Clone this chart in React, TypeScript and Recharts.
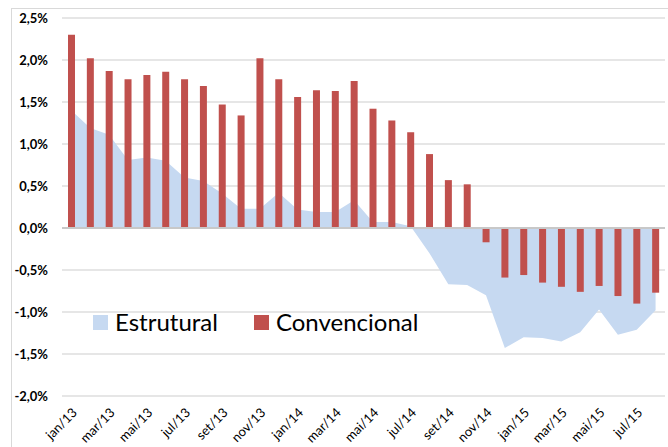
import {
  ComposedChart,
  Area,
  Bar,
  XAxis,
  YAxis,
  CartesianGrid,
  ReferenceLine,
} from "recharts";

const months = [
  "jan/13", "fev/13", "mar/13", "abr/13", "mai/13", "jun/13", "jul/13", "ago/13",
  "set/13", "out/13", "nov/13", "dez/13", "jan/14", "fev/14", "mar/14", "abr/14",
  "mai/14", "jun/14", "jul/14", "ago/14", "set/14", "out/14", "nov/14", "dez/14",
  "jan/15", "fev/15", "mar/15", "abr/15", "mai/15", "jun/15", "jul/15", "ago/15",
];

const estrutural = [
  1.4, 1.19, 1.11, 0.81, 0.84, 0.8, 0.6, 0.56, 0.41, 0.23, 0.23, 0.42, 0.22, 0.19, 0.19, 0.33,
  0.07, 0.07, 0.02, -0.3, -0.67, -0.68, -0.8, -1.43, -1.3, -1.31, -1.35, -1.24, -0.97, -1.27, -1.21, -0.98,
];

const convencional = [
  2.3, 2.02, 1.87, 1.77, 1.82, 1.86, 1.77, 1.69, 1.47, 1.34, 2.02, 1.77, 1.56, 1.64, 1.63, 1.75,
  1.42, 1.28, 1.14, 0.88, 0.57, 0.52, -0.17, -0.59, -0.56, -0.65, -0.7, -0.76, -0.69, -0.81, -0.9, -0.77,
];

const yTicks = [-2, -1.5, -1, -0.5, 0, 0.5, 1, 1.5, 2, 2.5];

const data = months.map((m, i) => ({
  month: m,
  estrutural: estrutural[i],
  convencional: convencional[i],
}));

const BLUE = "#c6d9f1";
const RED = "#c0504d";
const FONT = "Lato, 'Open Sans', sans-serif";

function pct(v: number) {
  return `${v.toFixed(1).replace(".", ",")}%`;
}

// legend sits inside the plot, like the excel original
function LegendBox() {
  const items = [
    { label: "Estrutural", color: BLUE },
    { label: "Convencional", color: RED },
  ];
  return (
    <div
      style={{
        position: "absolute",
        left: 93,
        top: 307,
        display: "flex",
        alignItems: "center",
        fontFamily: FONT,
        fontSize: 24,
        color: "#000",
        lineHeight: "30px",
      }}
    >
      {items.map((it, i) => (
        <div key={it.label} style={{ display: "flex", alignItems: "center", marginRight: i === 0 ? 36 : 0 }}>
          <span style={{ width: 15, height: 15, background: it.color, display: "inline-block", marginRight: 7 }} />
          <span>{it.label}</span>
        </div>
      ))}
    </div>
  );
}

export default function App() {
  return (
    <div style={{ position: "relative", width: 668, height: 447, background: "#fff", overflow: "hidden" }}>
      <style>{`body{margin:0}`}</style>
      <div
        style={{
          position: "absolute",
          left: 11,
          top: 8,
          width: 680,
          height: 460,
          border: "1.5px solid #d9d9d9",
        }}
      />
      <ComposedChart
        width={668}
        height={447}
        data={data}
        margin={{ top: 18, right: 3, left: 0, bottom: 0 }}
        barSize={7}
      >
        <CartesianGrid vertical={false} stroke="#dedede" strokeWidth={1.5} />
        <XAxis
          dataKey="month"
          interval={1}
          tickSize={0}
          tickMargin={11}
          axisLine={false}
          height={51}
          angle={-45}
          textAnchor="end"
          tick={{ fontSize: 13, fill: "#000", fontFamily: FONT }}
        />
        <YAxis
          domain={[-2, 2.5]}
          ticks={yTicks}
          width={62}
          tickSize={0}
          tickMargin={14}
          axisLine={false}
          tickFormatter={pct}
          tick={{ fontSize: 13, fill: "#000", fontFamily: FONT, fontWeight: 700 }}
        />
        <Area
          type="linear"
          dataKey="estrutural"
          fill={BLUE}
          fillOpacity={1}
          stroke="none"
          isAnimationActive={false}
        />
        <Bar dataKey="convencional" fill={RED} isAnimationActive={false} />
        <ReferenceLine y={0} stroke="#c8c8c8" strokeWidth={2} />
      </ComposedChart>
      <LegendBox />
    </div>
  );
}
